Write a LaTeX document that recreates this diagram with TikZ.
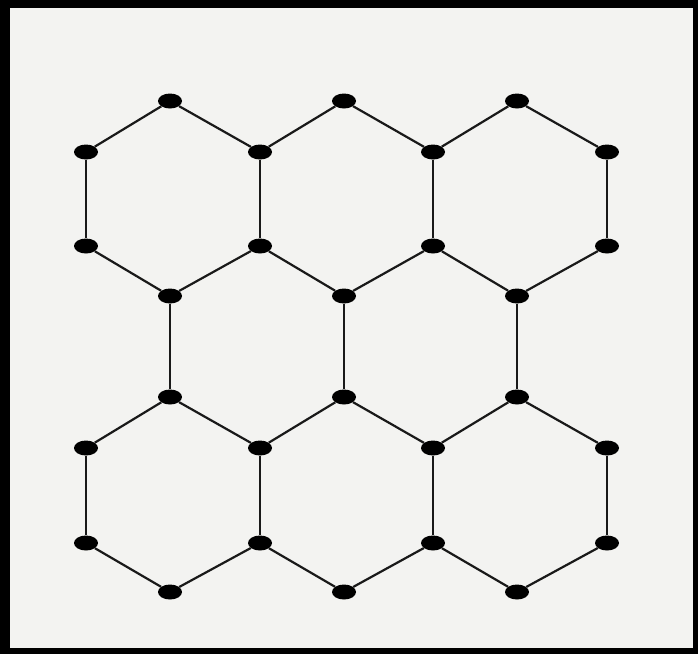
\documentclass[tikz,border=0pt]{standalone}
\usetikzlibrary{shapes.geometric}
\definecolor{paper}{RGB}{243,243,241}
\definecolor{ink}{RGB}{25,25,25}
\tikzset{
  vtx/.style={ellipse, fill=black, inner sep=0pt, minimum width=24pt, minimum height=15pt},
  bond/.style={draw=ink, line width=2.2pt}
}
\begin{document}
\begin{tikzpicture}[x=1pt, y=-1pt]
		% scanned page with its black frame
		\fill[black] (0, 0) rectangle (698, 654);
		\fill[paper] (10, 8) rectangle (693, 648);
		% vertices, row by row (x in px, y downwards)
		\foreach \i/\xx in {1/170, 2/344, 3/517} {
			\node[vtx] (t\i) at (\xx, 101) {};
			\node[vtx] (c\i) at (\xx, 296) {};
			\node[vtx] (d\i) at (\xx, 397) {};
			\node[vtx] (g\i) at (\xx, 592) {};
		}
		\foreach \i/\xx in {1/86, 2/260, 3/433, 4/607} {
			\node[vtx] (a\i) at (\xx, 152) {};
			\node[vtx] (b\i) at (\xx, 246) {};
			\node[vtx] (e\i) at (\xx, 448) {};
			\node[vtx] (f\i) at (\xx, 543) {};
		}
		% vertical sides
		\foreach \i in {1,...,4} {
			\draw[bond] (a\i) -- (b\i);
			\draw[bond] (e\i) -- (f\i);
		}
		% slanted sides of top and bottom rows, plus the middle links
		\foreach \i [evaluate=\i as \j using int(\i+1)] in {1,2,3} {
			\draw[bond] (a\i) -- (t\i) -- (a\j);
			\draw[bond] (b\i) -- (c\i) -- (b\j);
			\draw[bond] (c\i) -- (d\i);
			\draw[bond] (e\i) -- (d\i) -- (e\j);
			\draw[bond] (f\i) -- (g\i) -- (f\j);
		}
	\end{tikzpicture}
\end{document}
